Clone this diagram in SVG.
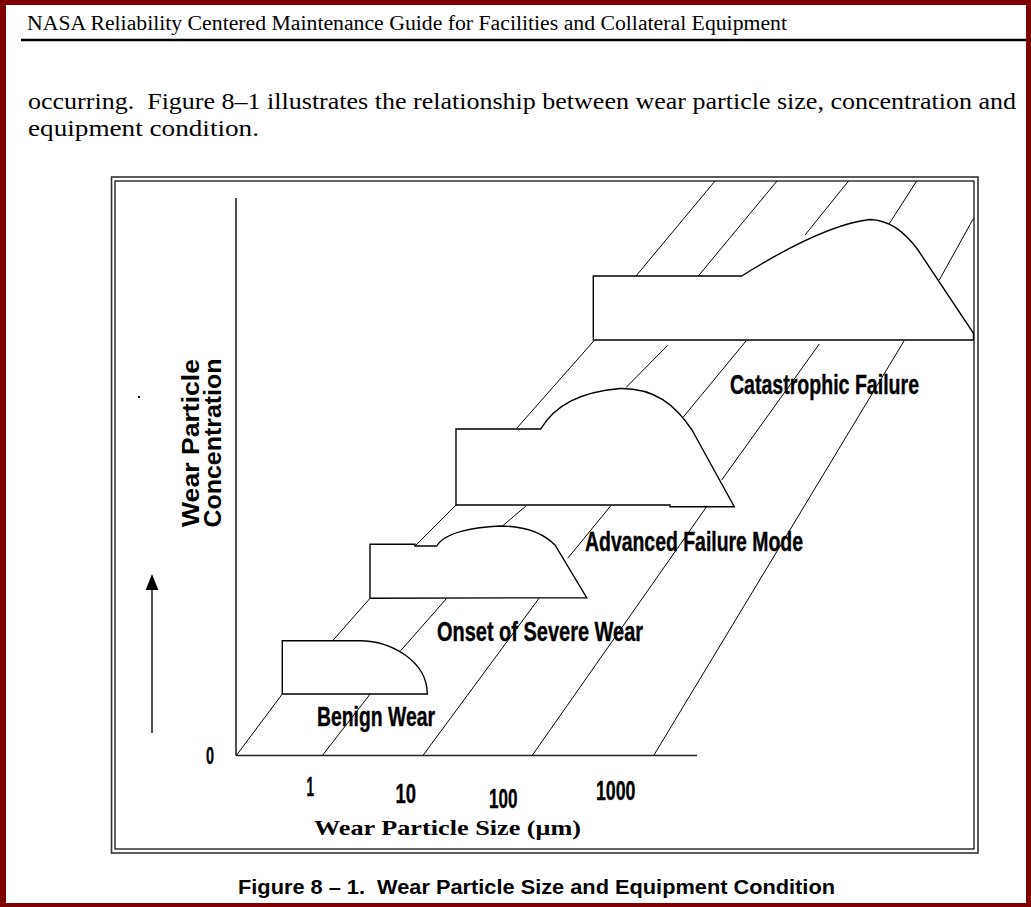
<svg xmlns="http://www.w3.org/2000/svg" width="1031" height="907" viewBox="0 0 1031 907">
<style>
.serif{font-family:"Liberation Serif","Times New Roman",serif;fill:#000}
.sans{font-family:"Liberation Sans",Arial,sans-serif;font-weight:bold;fill:#000}
.heavy{stroke:#000;stroke-width:0.4}
.shape{fill:#fff;stroke:#000;stroke-width:1.4;stroke-linejoin:miter}
.diag{stroke:#000;stroke-width:1;fill:none}
.axis{stroke:#222;stroke-width:1.6;fill:none}
</style>
<rect width="1031" height="907" fill="#fff"/>
<g id="page-frame" fill="#7f0000">
<rect x="0" y="0" width="1031" height="5"/>
<rect x="0" y="0" width="6" height="907"/>
<rect x="1026" y="0" width="5" height="907"/>
<rect x="0" y="903" width="1031" height="4"/>
</g>
<g id="header">
<text class="serif" x="27" y="30" font-size="20" textLength="760" lengthAdjust="spacingAndGlyphs">NASA Reliability Centered Maintenance Guide for Facilities and Collateral Equipment</text>
<line x1="21" y1="40" x2="1026" y2="40" stroke="#000" stroke-width="2.5"/>
</g>
<g id="paragraph">
<text class="serif" x="28" y="109" font-size="24" xml:space="preserve" textLength="988" lengthAdjust="spacingAndGlyphs">occurring.  Figure 8–1 illustrates the relationship between wear particle size, concentration and</text>
<text class="serif" x="28" y="136" font-size="24" textLength="231" lengthAdjust="spacingAndGlyphs">equipment condition.</text>
</g>
<g id="figure-frame" fill="none">
<rect x="111.5" y="177" width="866.5" height="676" stroke="#333" stroke-width="1.6"/>
<rect x="115" y="181" width="859" height="668" stroke="#000" stroke-width="1.2"/>
</g>
<g id="axes">
<line class="axis" x1="236" y1="198" x2="236" y2="755.5"/>
<line class="axis" x1="236" y1="755.5" x2="697" y2="755.5"/>
<line x1="152" y1="733" x2="152" y2="588" stroke="#222" stroke-width="1.6"/>
<polygon points="152,574 145.7,590 158.3,590" fill="#000"/>
<rect x="138" y="396" width="2" height="2" fill="#000"/>
</g>
<g id="connectors" class="diag">
<line x1="236.7" y1="755" x2="282.3" y2="694"/>
<line x1="332.7" y1="640.7" x2="370" y2="598.3"/>
<line x1="322.7" y1="755" x2="370" y2="694.3"/>
<line x1="400.7" y1="650.7" x2="446.7" y2="598.3"/>
<line x1="423.3" y1="755" x2="539" y2="598.3"/>
<line x1="532.5" y1="755" x2="706.6" y2="506.7"/>
<line x1="654" y1="755" x2="904" y2="341"/>
<line x1="415" y1="546" x2="456" y2="505"/>
<line x1="501.7" y1="526.7" x2="526" y2="506"/>
<line x1="567.7" y1="558.3" x2="611" y2="505.5"/>
<line x1="516.7" y1="428.3" x2="594" y2="340.7"/>
<line x1="626" y1="387.5" x2="667.5" y2="345.5"/>
<line x1="683.3" y1="417" x2="746" y2="341"/>
<line x1="721.7" y1="480" x2="819.3" y2="344"/>
<line x1="636" y1="276" x2="715" y2="181"/>
<line x1="698.3" y1="276" x2="777" y2="181"/>
<line x1="805" y1="235" x2="848.5" y2="181"/>
<line x1="887.3" y1="226.7" x2="916.7" y2="181"/>
<line x1="939.3" y1="280" x2="973.5" y2="218.3"/>
</g>
<g id="benign-wear">
<path class="shape" d="M282.3,694 V640.7 H360 C390,641 427,660 427.3,694 Z"/>
</g>
<g id="onset-severe-wear">
<path class="shape" d="M370,598.3 V544.3 H415 V546 H436.7 C445,532 475,527 500,526 C520,526 540,530 555,545 L586.7,597.7 Z"/>
</g>
<g id="advanced-failure-mode">
<path class="shape" d="M456,505 V429 H540.7 C555,405 580,392 620,388.5 C655,388 675,405 692,430 L734.3,506.7 H670 V505 Z"/>
</g>
<g id="catastrophic-failure">
<path class="shape" d="M593.3,340 V276 H741.7 C780,252 830,224 870,219.5 C890,220 905,232 918,250 L973.5,333.3 V340 Z"/>
</g>
<g id="labels" class="sans heavy">
<text x="730" y="394" font-size="27" textLength="189" lengthAdjust="spacingAndGlyphs">Catastrophic Failure</text>
<text x="585" y="551" font-size="27" textLength="218" lengthAdjust="spacingAndGlyphs">Advanced Failure Mode</text>
<text x="437" y="641" font-size="27" textLength="206" lengthAdjust="spacingAndGlyphs">Onset of Severe Wear</text>
<text x="317" y="726" font-size="27" textLength="118" lengthAdjust="spacingAndGlyphs">Benign Wear</text>
</g>
<g id="y-axis-label" class="sans">
<text transform="translate(199,443) rotate(-90)" font-size="24.5" text-anchor="middle" textLength="168" lengthAdjust="spacingAndGlyphs">Wear Particle</text>
<text transform="translate(220.5,443) rotate(-90)" font-size="24.5" text-anchor="middle" textLength="169" lengthAdjust="spacingAndGlyphs">Concentration</text>
</g>
<g id="tick-labels" class="sans heavy">
<text x="206" y="764" font-size="24" textLength="8" lengthAdjust="spacingAndGlyphs">0</text>
<text x="306.5" y="796" font-size="28" textLength="7.5" lengthAdjust="spacingAndGlyphs">1</text>
<text x="395.5" y="802.5" font-size="28" textLength="20.5" lengthAdjust="spacingAndGlyphs">10</text>
<text x="489" y="807.5" font-size="28" textLength="28.5" lengthAdjust="spacingAndGlyphs">100</text>
<text x="596" y="799.5" font-size="28" textLength="39.5" lengthAdjust="spacingAndGlyphs">1000</text>
</g>
<g id="x-axis-label">
<text class="serif" font-weight="bold" x="314" y="835" font-size="22" textLength="267" lengthAdjust="spacingAndGlyphs">Wear Particle Size (μm)</text>
</g>
<g id="caption">
<text class="sans" x="238" y="894" font-size="20" xml:space="preserve" textLength="597" lengthAdjust="spacingAndGlyphs">Figure 8 – 1.  Wear Particle Size and Equipment Condition</text>
</g>
</svg>
